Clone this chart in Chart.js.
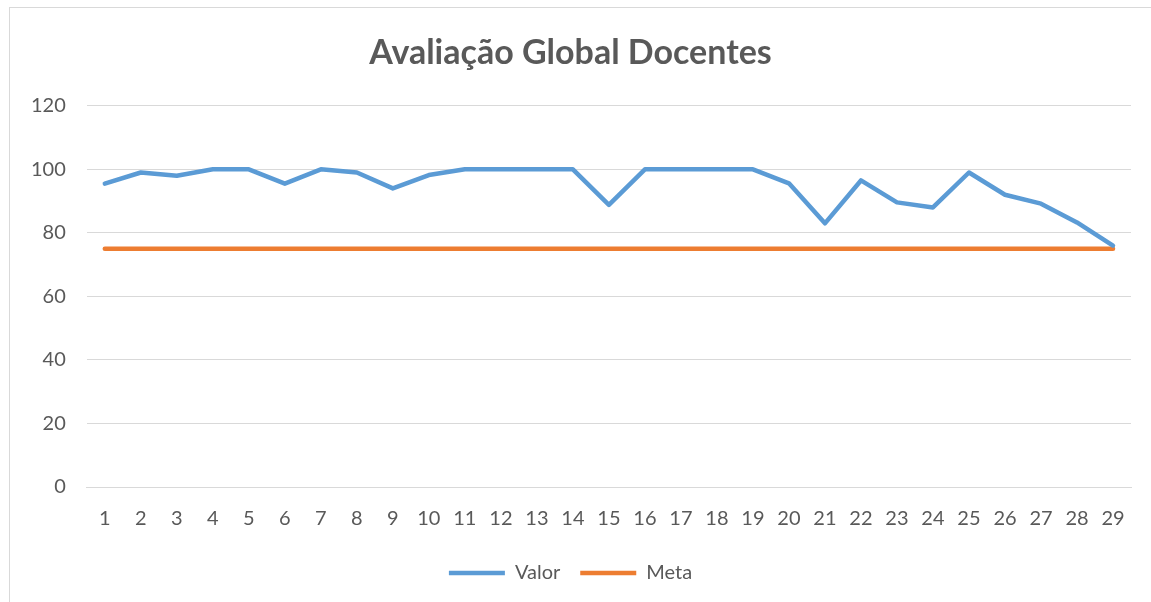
<!DOCTYPE html>
<html lang="pt">
<head>
    <meta charset="UTF-8">
    <title>Avaliação Global Docentes</title>
    <script src="https://cdn.jsdelivr.net/npm/chart.js"></script>
    <style>
        body { margin: 0; background: #fff; }
        .box { position: absolute; left: 9px; top: 7px; width: 1141px; height: 594px; border: 1px solid #d9d9d9; border-right: none; border-bottom: none; }
    </style>
</head>
<body>
    <div class="box"><canvas id="chart"></canvas></div>
    <script>
        // dados
        const labels = ['1','2','3','4','5','6','7','8','9','10','11','12','13','14','15','16','17','18','19','20','21','22','23','24','25','26','27','28','29'];
        const valor = [95.5, 99, 98, 100, 100, 95.5, 100, 99, 94, 98.2, 100, 100, 100, 100, 88.8, 100, 100, 100, 100, 95.6, 83, 96.5, 89.6, 88, 99, 92, 89.2, 83.3, 76];
        const meta = [75, 75, 75, 75, 75, 75, 75, 75, 75, 75, 75, 75, 75, 75, 75, 75, 75, 75, 75, 75, 75, 75, 75, 75, 75, 75, 75, 75, 75];
        const yTicks = [0, 20, 40, 60, 80, 100, 120];

        const txt = '#595959';
        const font = "Lato, 'Open Sans', sans-serif";

        new Chart(document.getElementById('chart'), {
            type: 'line',
            data: {
                labels: labels,
                datasets: [
                    { label: 'Valor', data: valor, borderColor: '#5b9bd5', backgroundColor: '#5b9bd5', borderWidth: 4.5, pointRadius: 0, tension: 0, borderCapStyle: 'round', borderJoinStyle: 'round' },
                    { label: 'Meta', data: meta, borderColor: '#ed7d31', backgroundColor: '#ed7d31', borderWidth: 4.5, pointRadius: 0, tension: 0, borderCapStyle: 'round' }
                ]
            },
            options: {
                responsive: true,
                maintainAspectRatio: false,
                animation: false,
                layout: { padding: { left: 0, right: 20, top: 20, bottom: 9 } },
                plugins: {
                    title: {
                        display: true,
                        text: 'Avaliação Global Docentes',
                        color: txt,
                        font: { family: font, size: 34, weight: 'bold' },
                        padding: { top: 5, bottom: 32 }
                    },
                    legend: {
                        position: 'bottom',
                        labels: {
                            color: txt,
                            font: { family: font, size: 20 },
                            usePointStyle: true,
                            pointStyle: 'line',
                            pointStyleWidth: 56,
                            padding: 20
                        }
                    },
                    tooltip: { enabled: false }
                },
                scales: {
                    x: {
                        offset: true,
                        grid: { display: false },
                        border: { color: '#d9d9d9' },
                        ticks: { color: txt, font: { family: font, size: 20 }, maxRotation: 0, autoSkip: false, padding: 12 }
                    },
                    y: {
                        min: 0,
                        max: 120,
                        afterBuildTicks: (axis) => { axis.ticks = yTicks.map(v => ({ value: v })); },
                        grid: { color: '#d9d9d9', drawTicks: false },
                        border: { display: false },
                        ticks: { color: txt, font: { family: font, size: 20 }, padding: 21 }
                    }
                }
            }
        });
    </script>
</body>
</html>
